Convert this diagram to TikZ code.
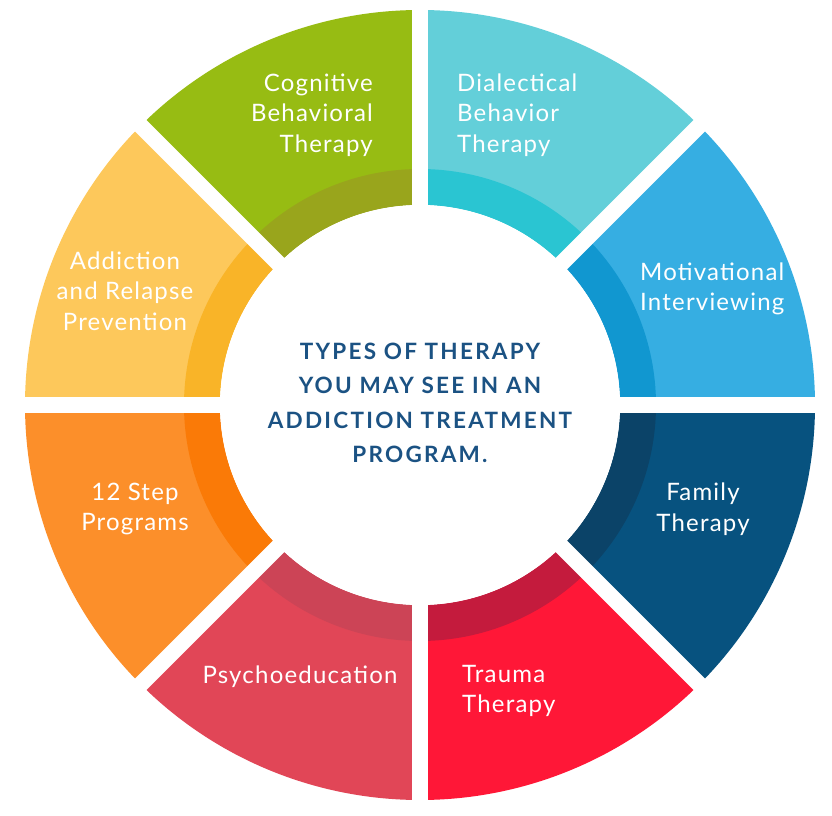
\documentclass[tikz,border=0pt]{standalone}
\usepackage{fontspec}
\setmainfont{Lato}[LetterSpace=5]
\newfontfamily\titlefont[LetterSpace=10]{Lato Bold}
\definecolor{cgO}{HTML}{97BC13}\definecolor{cgI}{HTML}{99A51C}
\definecolor{dbO}{HTML}{63CFD9}\definecolor{dbI}{HTML}{2AC5D2}
\definecolor{miO}{HTML}{36AEE2}\definecolor{miI}{HTML}{1197D0}
\definecolor{ftO}{HTML}{07527F}\definecolor{ftI}{HTML}{0B4368}
\definecolor{ttO}{HTML}{FF1737}\definecolor{ttI}{HTML}{C41B3D}
\definecolor{peO}{HTML}{E14657}\definecolor{peI}{HTML}{CC4456}
\definecolor{spO}{HTML}{FC8F2A}\definecolor{spI}{HTML}{FA7A07}
\definecolor{arO}{HTML}{FDC85B}\definecolor{arI}{HTML}{F9B428}
\definecolor{titleblue}{HTML}{1B5283}
\tikzset{
  lbl/.style={text=white, inner sep=0pt, font=\fontsize{24}{30.5}\selectfont},
  ttl/.style={text=titleblue, inner sep=0pt, align=center, font=\titlefont\fontsize{22.5}{34.5}\selectfont},
  gapline/.style={draw=white, line width=16pt}
}
\newcommand\seg[3]{%
  \fill[#2] (#1:235) -- (#1:395) arc[start angle=#1, end angle=#1+45, radius=395] -- (#1+45:235) arc[start angle=#1+45, end angle=#1, radius=235] -- cycle;
  \fill[#3] (#1:200) -- (#1:236) arc[start angle=#1, end angle=#1+45, radius=236] -- (#1+45:200) arc[start angle=#1+45, end angle=#1, radius=200] -- cycle;
}
\begin{document}
\begin{tikzpicture}[x=1pt,y=1pt]
\useasboundingbox (0,0) rectangle (832,815);
\begin{scope}[shift={(420,410)}]
  \seg{0}{miO}{miI}
  \seg{45}{dbO}{dbI}
  \seg{90}{cgO}{cgI}
  \seg{135}{arO}{arI}
  \seg{180}{spO}{spI}
  \seg{225}{peO}{peI}
  \seg{270}{ttO}{ttI}
  \seg{315}{ftO}{ftI}
  \foreach \a in {0,45,90,135}{
    \draw[gapline] (\a:402) -- (\a+180:402);
  }
  \fill[white] (0,0) circle[radius=200];
\end{scope}
\node[lbl, anchor=east, align=right] (cbt) at (373,700) {Cognitive\\Behavioral\\Therapy};
\node[lbl, anchor=west, align=left] (dbt) at (457,700) {Dialectical\\Behavior\\Therapy};
\node[lbl, anchor=west, align=left] (mi) at (640,526) {Motivational\\Interviewing};
\node[lbl, align=center] (arp) at (125,524) {Addiction\\and Relapse\\Prevention};
\node[lbl, align=center] (step) at (135,306) {12 Step\\Programs};
\node[lbl, align=center] (fam) at (703,306) {Family\\Therapy};
\node[lbl, align=center] (psy) at (300,138) {Psychoeducation};
\node[lbl, anchor=west, align=left] (tra) at (462,124) {Trauma\\Therapy};
\node[ttl] (title) at (420,412) {TYPES OF THERAPY\\YOU MAY SEE IN AN\\ADDICTION TREATMENT\\PROGRAM.};
\end{tikzpicture}
\end{document}
